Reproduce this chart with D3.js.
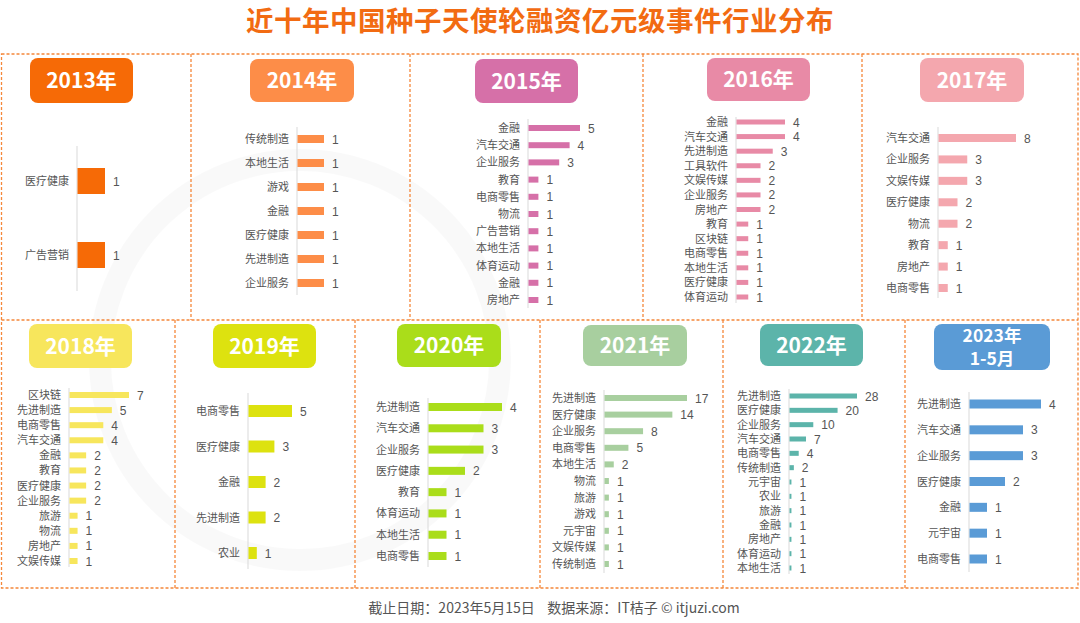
<!DOCTYPE html>
<html><head><meta charset="utf-8">
<script src="https://cdn.jsdelivr.net/npm/d3@7/dist/d3.min.js"></script>
<style>
html,body{margin:0;padding:0;background:#fff;}
svg{display:block;font-family:"Noto Sans CJK SC","Noto Sans",sans-serif;}
</style></head>
<body>
<svg id="chart" width="1080" height="623"></svg>
<script>
// ---------- DATA ----------
const title = "近十年中国种子天使轮融资亿元级事件行业分布";
const footer = "截止日期：2023年5月15日    数据来源：IT桔子 © itjuzi.com";

const years = ["2013年","2014年","2015年","2016年","2017年","2018年","2019年","2020年","2021年","2022年","2023年\n1-5月"];

const cats2013 = ["医疗健康","广告营销"];
const vals2013 = [1,1];
const cats2014 = ["传统制造","本地生活","游戏","金融","医疗健康","先进制造","企业服务"];
const vals2014 = [1,1,1,1,1,1,1];
const cats2015 = ["金融","汽车交通","企业服务","教育","电商零售","物流","广告营销","本地生活","体育运动","金融","房地产"];
const vals2015 = [5,4,3,1,1,1,1,1,1,1,1];
const cats2016 = ["金融","汽车交通","先进制造","工具软件","文娱传媒","企业服务","房地产","教育","区块链","电商零售","本地生活","医疗健康","体育运动"];
const vals2016 = [4,4,3,2,2,2,2,1,1,1,1,1,1];
const cats2017 = ["汽车交通","企业服务","文娱传媒","医疗健康","物流","教育","房地产","电商零售"];
const vals2017 = [8,3,3,2,2,1,1,1];
const cats2018 = ["区块链","先进制造","电商零售","汽车交通","金融","教育","医疗健康","企业服务","旅游","物流","房地产","文娱传媒"];
const vals2018 = [7,5,4,4,2,2,2,2,1,1,1,1];
const cats2019 = ["电商零售","医疗健康","金融","先进制造","农业"];
const vals2019 = [5,3,2,2,1];
const cats2020 = ["先进制造","汽车交通","企业服务","医疗健康","教育","体育运动","本地生活","电商零售"];
const vals2020 = [4,3,3,2,1,1,1,1];
const cats2021 = ["先进制造","医疗健康","企业服务","电商零售","本地生活","物流","旅游","游戏","元宇宙","文娱传媒","传统制造"];
const vals2021 = [17,14,8,5,2,1,1,1,1,1,1];
const cats2022 = ["先进制造","医疗健康","企业服务","汽车交通","电商零售","传统制造","元宇宙","农业","旅游","金融","房地产","体育运动","本地生活"];
const vals2022 = [28,20,10,7,4,2,1,1,1,1,1,1,1];
const cats2023 = ["先进制造","汽车交通","企业服务","医疗健康","金融","元宇宙","电商零售"];
const vals2023 = [4,3,3,2,1,1,1];

const allCats = [cats2013,cats2014,cats2015,cats2016,cats2017,cats2018,cats2019,cats2020,cats2021,cats2022,cats2023];
const allVals = [vals2013,vals2014,vals2015,vals2016,vals2017,vals2018,vals2019,vals2020,vals2021,vals2022,vals2023];

// ---------- LAYOUT / STYLE ----------
const colors = ["#F66A06","#FD8D48","#D670A8","#E88AA6","#F4A7AE","#F7E65C","#DDE20F","#AADD1A","#A8CF9F","#5CB4AA","#5A9BD6"];
const layout = [
  {bx:30, by:58, bw:103,bh:45, ax:77,  at:146,ab:291, y0:181,y1:255, len:28, bh2:26},
  {bx:250,by:59, bw:104,bh:43, ax:297, at:127,ab:295, y0:139,y1:283, len:27, bh2:8},
  {bx:475,by:59, bw:103,bh:44, ax:528, at:119,ab:308, y0:128,y1:300, len:52, bh2:6},
  {bx:707,by:58, bw:103,bh:43, ax:736, at:117,ab:303, y0:122,y1:297, len:49, bh2:5},
  {bx:920,by:58, bw:104,bh:44, ax:938, at:127,ab:298, y0:138,y1:288, len:78, bh2:8},
  {bx:29, by:324,bw:103,bh:44, ax:69,  at:388,ab:567, y0:395,y1:561, len:60, bh2:6},
  {bx:213,by:324,bw:103,bh:44, ax:248, at:393,ab:569, y0:411,y1:553, len:44, bh2:12},
  {bx:397,by:324,bw:104,bh:43, ax:428, at:398,ab:567, y0:407,y1:556, len:74, bh2:8},
  {bx:583,by:325,bw:104,bh:41, ax:604, at:390,ab:573, y0:398,y1:564, len:83, bh2:6},
  {bx:760,by:324,bw:103,bh:42, ax:789, at:389,ab:574, y0:396,y1:568, len:68, bh2:5},
  {bx:934,by:324,bw:116,bh:46, ax:969, at:392,ab:572, y0:404,y1:559, len:72, bh2:9}
];

const svg = d3.select("#chart");
const borderColor = "#F5873A";

// faint watermark ring
svg.append("circle").attr("cx",300).attr("cy",360).attr("r",200)
  .attr("fill","none").attr("stroke","#000").attr("stroke-opacity",0.025).attr("stroke-width",22);

// title
svg.append("text").attr("x",540).attr("y",31).attr("text-anchor","middle")
  .attr("font-size",27.5).attr("font-weight","bold").attr("fill","#F26B12")
  .attr("letter-spacing",0.5).text(title);

// borders
const bord = svg.append("g").attr("fill","none").attr("stroke",borderColor)
  .attr("stroke-width",1.3).attr("stroke-dasharray","3,2");
bord.append("rect").attr("x",1.5).attr("y",54).attr("width",1076.5).attr("height",534);
bord.append("line").attr("x1",1.5).attr("x2",1078).attr("y1",320).attr("y2",320);
[191,410,643,862].forEach(x=>bord.append("line").attr("x1",x).attr("x2",x).attr("y1",54).attr("y2",320));
[175,355,540,723,905].forEach(x=>bord.append("line").attr("x1",x).attr("x2",x).attr("y1",320).attr("y2",588));

// panels
allCats.forEach((cats,i)=>{
  const vals = allVals[i];
  const L = layout[i];
  const col = colors[i];
  const g = svg.append("g");
  g.append("rect").attr("x",L.bx).attr("y",L.by).attr("width",L.bw).attr("height",L.bh)
    .attr("rx",8).attr("fill",col);
  const lines = years[i].split("\n");
  if(lines.length===1){
    g.append("text").attr("text-anchor","middle").attr("font-weight","bold").attr("fill","#fff")
      .attr("x",L.bx+L.bw/2).attr("y",L.by+L.bh/2+7.5).attr("font-size",21).text(lines[0]);
  } else {
    lines.forEach((t,k)=>{
      g.append("text").attr("text-anchor","middle").attr("font-weight","bold").attr("fill","#fff")
        .attr("font-size",17.5)
        .attr("x",L.bx+L.bw/2).attr("y",L.by+17.5+k*23.5).text(t);
    });
  }
  const x = d3.scaleLinear().domain([0,d3.max(vals)]).range([L.ax, L.ax+L.len]);
  const y = d3.scalePoint().domain(d3.range(cats.length)).range([L.y0,L.y1]);
  g.append("line").attr("x1",L.ax).attr("x2",L.ax).attr("y1",L.at).attr("y2",L.ab)
    .attr("stroke","#d9d9d9").attr("stroke-width",1);
  g.selectAll("rect.bar").data(vals).join("rect").attr("class","bar")
    .attr("x",L.ax+0.5).attr("y",(d,j)=>y(j)-L.bh2/2)
    .attr("width",d=>x(d)-L.ax-0.5).attr("height",L.bh2).attr("fill",col);
  g.selectAll("text.cat").data(cats).join("text").attr("class","cat")
    .attr("x",L.ax-8).attr("y",(d,j)=>y(j)+4).attr("text-anchor","end")
    .attr("font-size",11).attr("fill","#555").text(d=>d);
  g.selectAll("text.val").data(vals).join("text").attr("class","val")
    .attr("x",d=>x(d)+8).attr("y",(d,j)=>y(j)+4.5)
    .attr("font-family","'Liberation Sans',Arial,sans-serif")
    .attr("font-size",12).attr("fill","#555").text(d=>d);
});

// footer
svg.append("text").attr("x",554).attr("y",613).attr("text-anchor","middle")
  .attr("font-size",14).attr("fill","#555").style("white-space","pre").text(footer);
</script>
</body></html>
